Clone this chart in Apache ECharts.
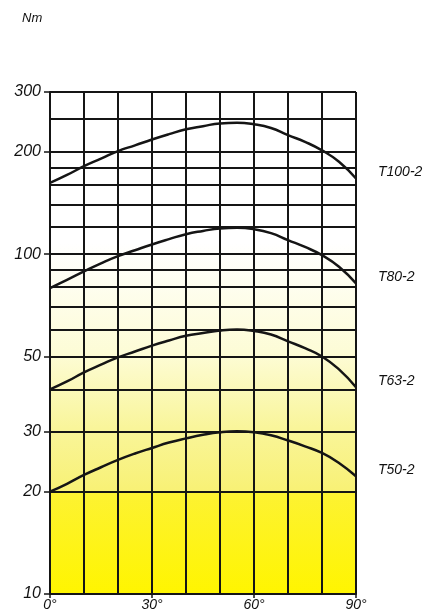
<!DOCTYPE html>
<html>
<head>
<meta charset="utf-8">
<script src="https://cdn.jsdelivr.net/npm/echarts@6/dist/echarts.min.js"></script>
<style>
    html, body { margin: 0; padding: 0; background: #fff; }
    #main { width: 443px; height: 616px; }
</style>
</head>
<body>
<div id="main"></div>
<script>
// angle in degrees (read every 5°)
var angles = [0, 5, 10, 15, 20, 25, 30, 35, 40, 45, 50, 55, 60, 65, 70, 75, 80, 85, 90];
var xLabelValues = [0, 30, 60, 90];
// horizontal grid lines (Nm) and the ones that get a label
var gridValues = [10, 20, 30, 40, 50, 60, 70, 80, 90, 100, 120, 140, 160, 180, 200, 250, 300];
var yLabelValues = [10, 20, 30, 50, 100, 200, 300];

var seriesNames = ['T100-2', 'T80-2', 'T63-2', 'T50-2'];
var t100 = [162, 171, 181.5, 191, 201, 209, 217.5, 225.5, 233, 238, 242.5, 243.5, 241, 235, 224, 214, 202, 187, 167];
var t80 = [79.5, 84, 89, 94, 98.7, 102.7, 106.8, 110.7, 114.5, 117, 119, 119.5, 118.4, 115.3, 110, 105, 99.3, 91.8, 82];
var t63 = [40, 42.2, 44.9, 47.3, 49.7, 51.7, 53.8, 55.7, 57.5, 58.6, 59.6, 60, 59.4, 58, 55.4, 52.9, 50, 45.8, 40.6];
var t50 = [20, 21.1, 22.4, 23.6, 24.8, 25.9, 26.9, 27.9, 28.7, 29.4, 29.9, 30.1, 29.9, 29.3, 28.3, 27.2, 26, 24.3, 22.2];
var seriesValues = [t100, t80, t63, t50];

var fontFam = '"Liberation Sans", Arial, sans-serif';
var lineColor = '#151515';

function pairs(vals) {
    var out = [];
    for (var i = 0; i < angles.length; i++) {
        out.push([angles[i], vals[i]]);
    }
    return out;
}

var series = [];
for (var k = 0; k < seriesNames.length; k++) {
    series.push({
        name: seriesNames[k],
        type: 'line',
        smooth: 0.5,
        symbol: 'none',
        data: pairs(seriesValues[k]),
        lineStyle: { color: lineColor, width: 2.5 },
        endLabel: {
            show: true,
            formatter: '{a}',
            offset: [14, -6],
            color: '#111',
            fontFamily: fontFam,
            fontStyle: 'italic',
            fontSize: 14
        }
    });
}

var option = {
    animation: false,
    backgroundColor: '#fff',
    title: {
        text: 'Nm',
        left: 17,
        top: 7,
        textStyle: { fontFamily: fontFam, fontStyle: 'italic', fontWeight: 'normal', fontSize: 13, color: '#111' }
    },
    grid: {
        left: 50, right: 87, top: 92, bottom: 22,
        show: true,
        borderWidth: 0,
        // yellow at the bottom fading to white
        backgroundColor: new echarts.graphic.LinearGradient(0, 0, 0, 1, [
            { offset: 0, color: '#ffffff' },
            { offset: 0.3, color: '#ffffff' },
            { offset: 0.52, color: '#fdfcd6' },
            { offset: 0.67, color: '#f9f59a' },
            { offset: 0.795, color: '#f8f175' },
            { offset: 0.8, color: '#fdf232' },
            { offset: 1, color: '#fff500' }
        ])
    },
    xAxis: [
        {
            type: 'value',
            min: 0,
            max: 90,
            interval: 10,
            axisLine: { show: true, lineStyle: { color: lineColor, width: 2 } },
            axisTick: { show: false },
            splitLine: { show: true, lineStyle: { color: lineColor, width: 2 } },
            axisLabel: {
                margin: 4,
                color: '#111',
                fontFamily: fontFam,
                fontStyle: 'italic',
                fontSize: 14,
                formatter: function (v) {
                    return xLabelValues.indexOf(v) >= 0 ? v + '°' : '';
                }
            }
        },
        {
            // only the small ticks under 0/30/60/90
            type: 'value',
            min: 0,
            max: 90,
            interval: 30,
            position: 'bottom',
            axisLine: { show: false },
            axisTick: { show: true, length: 4, lineStyle: { color: lineColor, width: 1.5 } },
            axisLabel: { show: false },
            splitLine: { show: false }
        }
    ],
    yAxis: [
        {
            type: 'log',
            logBase: 10,
            min: 10,
            max: 300,
            axisLine: { show: true, lineStyle: { color: lineColor, width: 2 } },
            axisTick: { show: false, customValues: gridValues },
            splitLine: { show: true, lineStyle: { color: lineColor, width: 2 } },
            axisLabel: {
                customValues: yLabelValues,
                margin: 9,
                color: '#111',
                fontFamily: fontFam,
                fontStyle: 'italic',
                fontSize: 16
            }
        },
        {
            // ticks on the labelled values
            type: 'log',
            logBase: 10,
            min: 10,
            max: 300,
            position: 'left',
            axisLine: { show: false },
            axisTick: { show: true, length: 6, customValues: yLabelValues, lineStyle: { color: lineColor, width: 1.5 } },
            axisLabel: { show: false },
            splitLine: { show: false }
        }
    ],
    series: series
};

var myChart = echarts.init(document.getElementById('main'));
myChart.setOption(option);
</script>
</body>
</html>
